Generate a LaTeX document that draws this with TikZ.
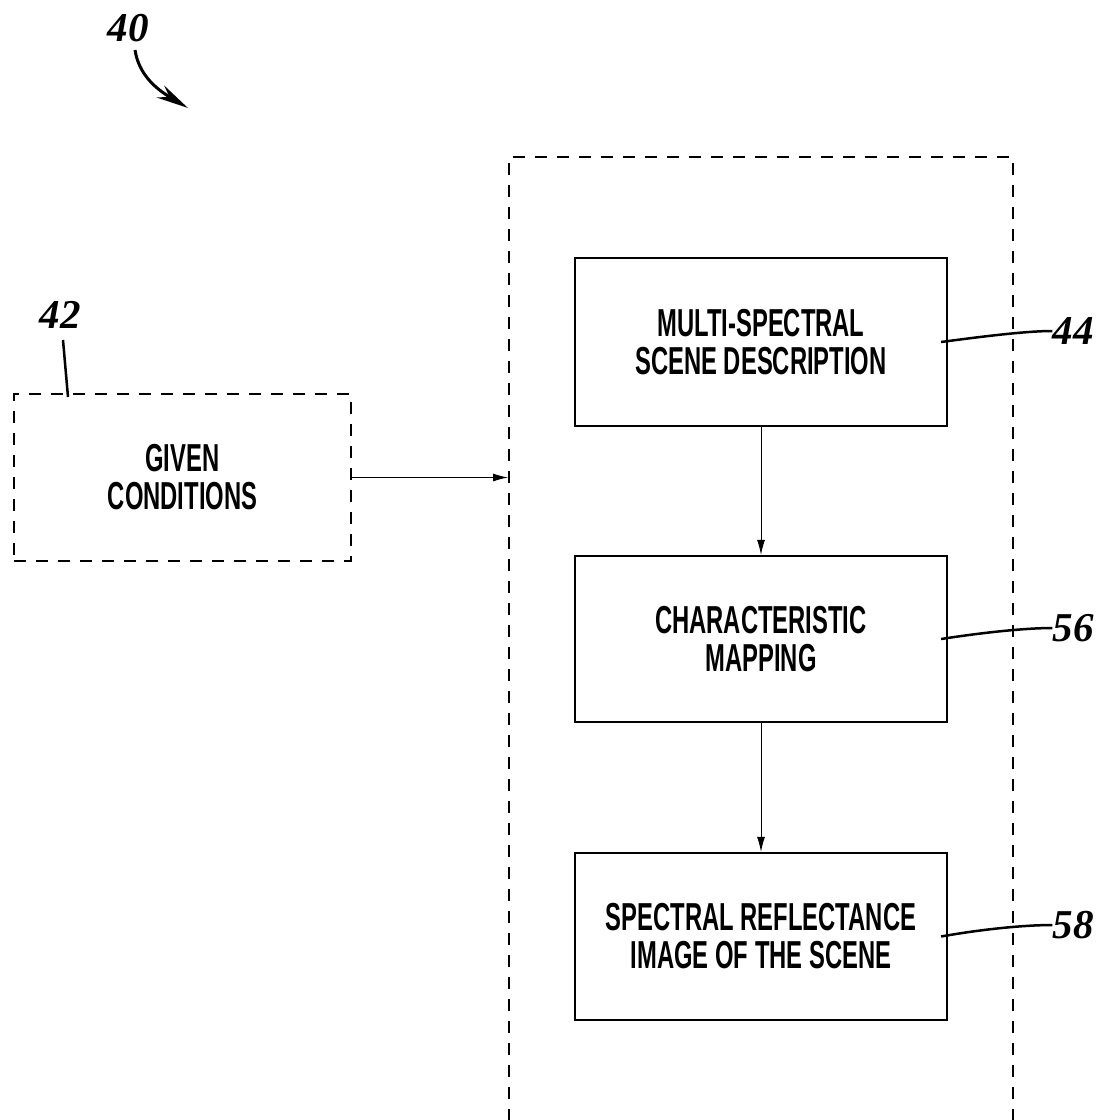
\documentclass[tikz,border=0pt]{standalone}
\usepackage{fontspec}
\newfontfamily\boxfont[FakeStretch=0.61]{Liberation Sans}
\newfontfamily\numfont{Liberation Serif}
\usetikzlibrary{arrows.meta}
\tikzset{
  blk/.style={draw, line width=2.2pt, minimum width=372pt, align=center,
    font=\boxfont\bfseries\fontsize{39}{38}\selectfont, inner sep=0pt},
  dbox/.style={draw, line width=2pt, dash pattern=on 12pt off 10pt},
  num/.style={font=\numfont\bfseries\itshape\fontsize{41}{41}\selectfont, inner sep=0pt},
  flow/.style={line width=1pt, -{Latex[length=15pt,width=8pt]}},
  leader/.style={line width=2.5pt},
}
\begin{document}
\begin{tikzpicture}[x=1pt,y=-1pt]
\useasboundingbox (0,0) rectangle (1104,1120);
% outer dashed region
\node[dbox, minimum width=504pt, minimum height=966pt, inner sep=0pt] (outer) at (761,640) {};
% given conditions
\node[dbox, minimum width=337pt, minimum height=167pt, align=center, inner sep=0pt,
  font=\boxfont\bfseries\fontsize{39}{38}\selectfont] (given) at (182.5,477.5) {GIVEN\\CONDITIONS};
% blocks
\node[blk, minimum height=168pt] (b44) at (761,342) {MULTI-SPECTRAL\\SCENE DESCRIPTION};
\node[blk, minimum height=166pt] (b56) at (761,639) {CHARACTERISTIC\\MAPPING};
\node[blk, minimum height=167pt] (b58) at (761,936.5) {SPECTRAL REFLECTANCE\\IMAGE OF THE SCENE};
% flows
\draw[flow] (given.east) -- (given.east -| outer.west);
\draw[flow] (b44.south) -- (b56.north);
\draw[flow] (b56.south) -- (b58.north);
% reference numerals
\node[num] (n40) at (128,28) {40};
\coordinate (a40s) at (135,50);
\coordinate (a40e) at (188,108);
\draw[line width=3pt, -{Stealth[length=32pt,width=14pt]}] (a40s) .. controls (139,76) and (158,90) .. (a40e);
\node[num] (n42) at (60,315) {42};
\coordinate (a42s) at (63,340);
\draw[leader] (a42s) -- (68,397);
\node[num] (n44) at (1073,331) {44};
\node[num] (n56) at (1073,628) {56};
\node[num] (n58) at (1073,925) {58};
\draw[leader] ([xshift=-7pt]b44.east) .. controls +(45,-6) and +(-25,0) .. (n44.west);
\draw[leader] ([xshift=-7pt]b56.east) .. controls +(45,-7) and +(-25,0) .. (n56.west);
\draw[leader] ([xshift=-7pt]b58.east) .. controls +(45,-8) and +(-25,0) .. (n58.west);
\end{tikzpicture}
\end{document}
